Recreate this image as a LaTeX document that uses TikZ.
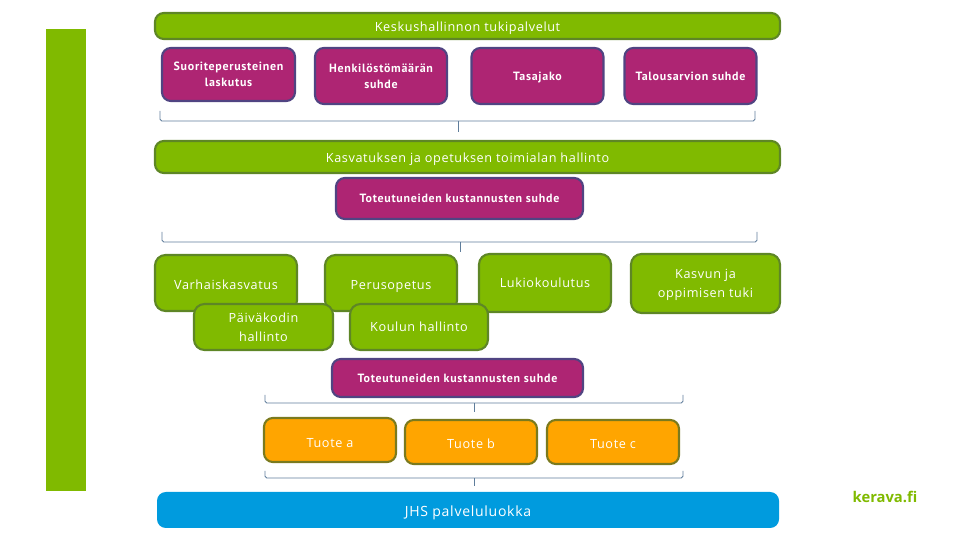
\documentclass[tikz,border=0pt]{standalone}
\usepackage{fontspec}
\setmainfont{Open Sans}[LetterSpace=5]
\newfontfamily\purplefont{PT Sans}[LetterSpace=6]
\usetikzlibrary{positioning}
\definecolor{Kgreen}{RGB}{128,186,0}
\definecolor{Kgreenline}{RGB}{94,134,38}
\definecolor{Kpurple}{RGB}{174,37,115}
\definecolor{Kpurpleline}{RGB}{80,68,130}
\definecolor{Korange}{RGB}{255,165,0}
\definecolor{Korangeline}{RGB}{122,122,30}
\definecolor{Kblue}{RGB}{0,155,222}
\definecolor{Kbracket}{RGB}{95,125,155}

\begin{document}
\begin{tikzpicture}[
  barbox/.style={rectangle, rounded corners=5pt,
                 draw=Kgreenline, fill=Kgreen, line width=1.2pt,
                 minimum width=12.5cm, minimum height=0.52cm,
                 align=center, text=white, text depth=0pt, text height=6.6pt,
                 font=\fontsize{7.2}{9}\selectfont},
  purplebox/.style={rectangle, rounded corners=5pt,
                    draw=Kpurpleline, fill=Kpurple, line width=1.2pt,
                    minimum width=2.64cm, minimum height=1.12cm, inner sep=1pt,
                    align=center, text=white, text depth=0pt,
                    font=\purplefont\fontsize{6.8}{9.2}\selectfont\bfseries},
  greenbox/.style={rectangle, rounded corners=6pt,
                   draw=Kgreenline, fill=Kgreen, line width=1.2pt,
                   minimum width=2.64cm, minimum height=1.12cm, inner sep=1pt,
                   align=center, text=white, text depth=0pt,
                   font=\fontsize{7.2}{10.8}\selectfont},
  orangebox/.style={rectangle, rounded corners=5pt,
                    draw=Korangeline, fill=Korange, line width=1.2pt,
                    minimum width=2.64cm, minimum height=0.88cm,
                    align=center, text=white, text depth=0pt, text height=7pt,
                    font=\fontsize{7.2}{9}\selectfont},
  brk/.style={draw=Kbracket, line width=0.5pt, rounded corners=1pt}
]
\useasboundingbox (0,0) rectangle (19.2,10.8);

%% --- SIDE STRIP ---
\fill[Kgreen] (0.92,0.98) rectangle (1.72,10.22);

%% --- TOP TIER ---
\node[barbox] (keskus) at (9.35, 10.28) {Keskushallinnon tukipalvelut};
\node[purplebox, minimum width=2.66cm, minimum height=1.06cm] (suorite) at (4.57, 9.31)
  {Suoriteperusteinen\\laskutus};
\node[purplebox] (henkilo) at (7.62, 9.28) {Henkilöstömäärän\\suhde};
\node[purplebox] (tasajako) at (10.75, 9.28) {Tasajako};
\node[purplebox] (talous) at (13.81, 9.28) {Talousarvion suhde};

%% --- BRACKET 1 ---
\draw[brk] (3.20,8.58) -- (3.20,8.38) -- (15.10,8.38) -- (15.10,8.58);
\draw[brk] (9.16,8.38) -- (9.16,8.16);

%% --- MIDDLE TIER ---
\node[barbox, minimum height=0.64cm] (kasvatus) at (9.35, 7.66)
  {Kasvatuksen ja opetuksen toimialan hallinto};
\node[purplebox, minimum width=4.94cm, minimum height=0.82cm] (toteutA) at (9.19, 6.83)
  {Toteutuneiden kustannusten suhde};

%% --- BRACKET 2 ---
\draw[brk] (3.24,6.16) -- (3.24,5.96) -- (15.14,5.96) -- (15.14,6.16);
\draw[brk] (9.20,5.96) -- (9.20,5.76);

%% --- SERVICE BOXES ---
\node[greenbox, minimum width=2.84cm, text height=7.4pt] (varhais) at (4.52, 5.14) {Varhaiskasvatus};
\node[greenbox, text height=7.8pt] (perus) at (7.82, 5.14) {Perusopetus};
\node[greenbox, minimum height=1.16cm] (lukio) at (10.90, 5.14) {Lukiokoulutus};
\node[greenbox, minimum width=2.98cm, minimum height=1.18cm] (kasvun) at (14.11, 5.13)
  {Kasvun ja\\oppimisen tuki};
\node[greenbox, minimum width=2.78cm, minimum height=0.92cm] (paivakoti) at (5.27, 4.26)
  {Päiväkodin\\hallinto};
\node[greenbox, minimum width=2.76cm, minimum height=0.92cm] (koulu) at (8.38, 4.26)
  {Koulun hallinto};

%% --- BRACKET 3 ---
\draw[brk] (5.30,2.90) -- (5.30,2.74) -- (13.66,2.74) -- (13.66,2.90);
\draw[brk] (9.48,2.74) -- (9.48,2.56);

%% --- LOWER TIER ---
\node[purplebox, minimum width=5.02cm, minimum height=0.76cm] (toteutB) at (9.15, 3.24)
  {Toteutuneiden kustannusten suhde};

%% --- PRODUCTS ---
\node[orangebox, text height=8pt] (tuoteA) at (6.60, 2.00) {Tuote a};
\node[orangebox] (tuoteB) at (9.42, 1.96) {Tuote b};
\node[orangebox] (tuoteC) at (12.26, 1.96) {Tuote c};

%% --- BRACKET 4 ---
\draw[brk] (5.30,1.38) -- (5.30,1.24) -- (13.66,1.24) -- (13.66,1.38);
\draw[brk] (9.48,1.24) -- (9.48,1.08);

%% --- BOTTOM BAR ---
\node[rectangle, rounded corners=5pt, fill=Kblue,
      minimum width=12.44cm, minimum height=0.72cm, text depth=0pt, text height=7.2pt,
      text=white, font=\fontsize{8}{10}\selectfont] (jhs) at (9.36, 0.60)
  {JHS palveluluokka};
\node[text=Kgreen, font=\fontsize{8.4}{10}\selectfont\bfseries, inner sep=0pt] (kerava) at (17.70, 0.86)
  {\addfontfeature{LetterSpace=0}kerava.fi};

\end{tikzpicture}
\end{document}
